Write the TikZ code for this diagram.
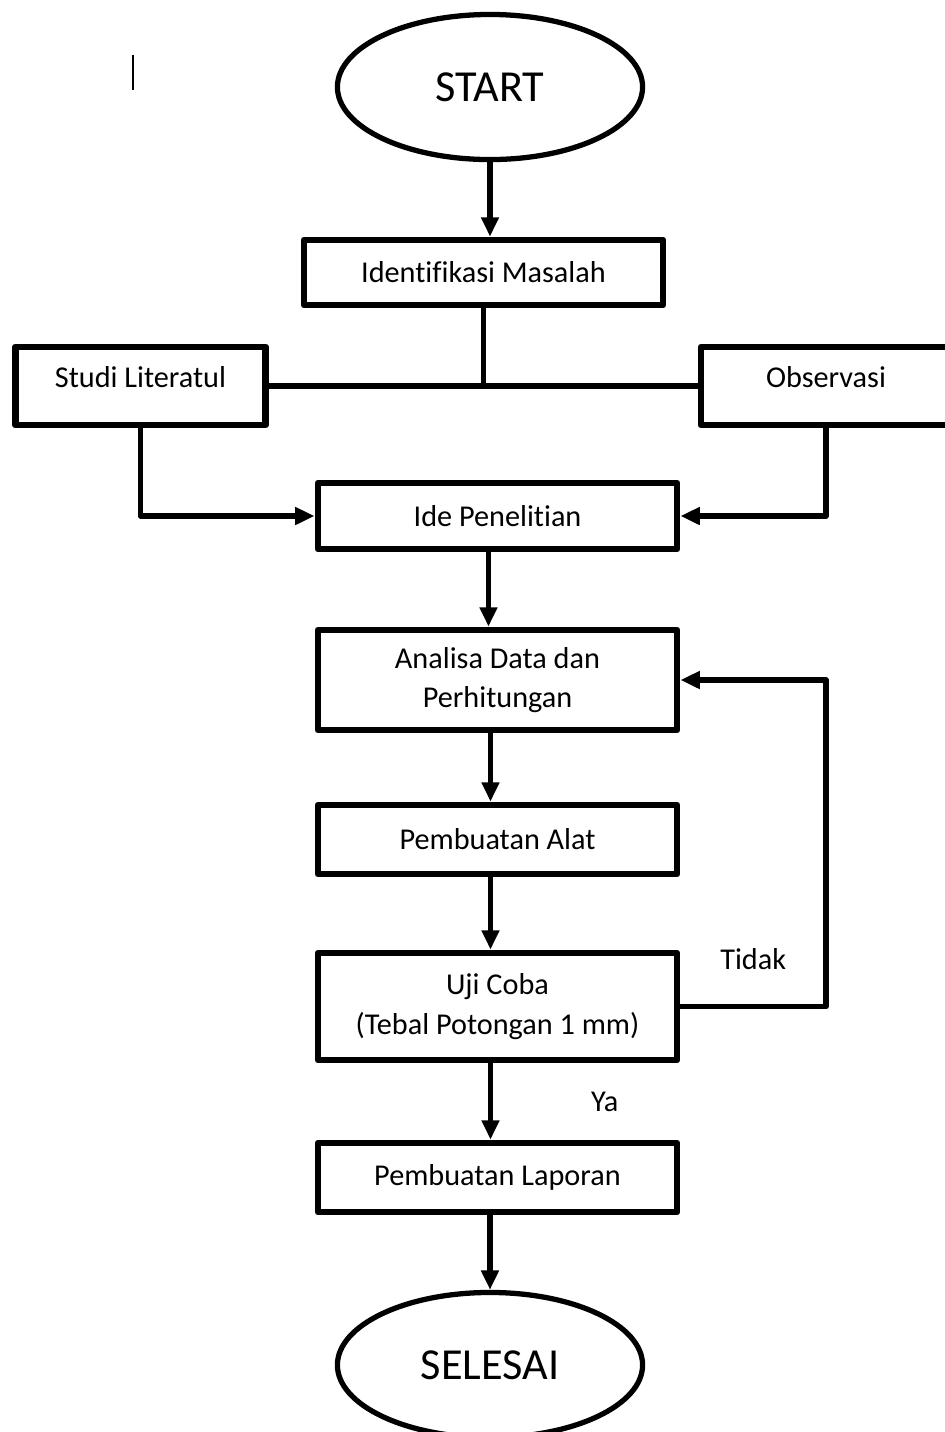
\documentclass[tikz,border=0pt]{standalone}
\usepackage{fontspec}
\setmainfont{Carlito}[Ligatures=NoCommon]
\usetikzlibrary{arrows.meta,shapes.geometric}

\begin{document}
\begin{tikzpicture}[x=0.01cm,y=-0.01cm,>={Triangle[length=5.5pt,width=4.8pt]},line join=round,
	font=\fontsize{8.6}{11.2}\selectfont,
	proses/.style={draw,line width=1.9pt,minimum width=3.59cm,align=center,inner sep=0pt},
	samping/.style={draw,line width=1.9pt,minimum width=2.5cm,minimum height=0.78cm,inner sep=0pt,text depth=0.18cm},
	terminal/.style={draw,ellipse,line width=1.5pt,minimum width=3.05cm,minimum height=1.45cm,inner sep=0pt,font=\fontsize{12.6}{15}\selectfont},
	garis/.style={line width=1.6pt}]
	\useasboundingbox (0,0) rectangle (945,1432);
	\clip (0,0) rectangle (945,1432);
	% kursor
	\draw[line width=0.5pt] (133,55)--(133,90);
	% simpul
	\node[terminal] (start) at (490,87) {START};
	\node[proses,minimum height=0.65cm] (idm) at (483.5,272.5) {Identifikasi Masalah};
	\node[samping] (studi) at (140.5,386) {Studi Literatul};
	\node[samping] (obs) at (826,386) {Observasi};
	\node[proses,minimum height=0.66cm] (ide) at (497.5,516) {Ide Penelitian};
	\node[proses,minimum height=1.0cm] (ana) at (497.5,680) {Analisa Data dan\\Perhitungan};
	\node[proses,minimum height=0.69cm] (alat) at (497.5,839.5) {Pembuatan Alat};
	\node[proses,minimum height=1.07cm] (uji) at (497.5,1006.5) {Uji Coba\\(Tebal Potongan 1 mm)};
	\node[proses,minimum height=0.69cm] (lap) at (497.5,1177.5) {Pembuatan Laporan};
	\node[terminal] (sel) at (490,1365) {SELESAI};
	% garis
	\draw[garis,->] (start.south) -- (start.south |- idm.north);
	\draw[garis] (idm.south) -- (idm.south |- studi.east);
	\draw[garis] (studi.east) -- (obs.west);
	\draw[garis,->] (studi.south) |- (ide.west);
	\draw[garis,->] (obs.south) |- (ide.east);
	\draw[garis,->] ([xshift=-0.09cm]ide.south) -- ([xshift=-0.09cm]ana.north);
	\draw[garis,->] ([xshift=-0.07cm]ana.south) -- ([xshift=-0.07cm]alat.north);
	\draw[garis,->] ([xshift=-0.07cm]alat.south) -- ([xshift=-0.07cm]uji.north);
	\draw[garis,->] ([xshift=-0.07cm]uji.south) -- node[right=0.86cm,pos=0.5]{Ya} ([xshift=-0.07cm]lap.north);
	\draw[garis,->] (sel.north |- lap.south) -- (sel.north);
	\draw[garis,->] (uji.east) -- node[above=0.22cm,pos=0.5]{Tidak} (obs.south |- uji.east) |- (ana.east);
\end{tikzpicture}
\end{document}
